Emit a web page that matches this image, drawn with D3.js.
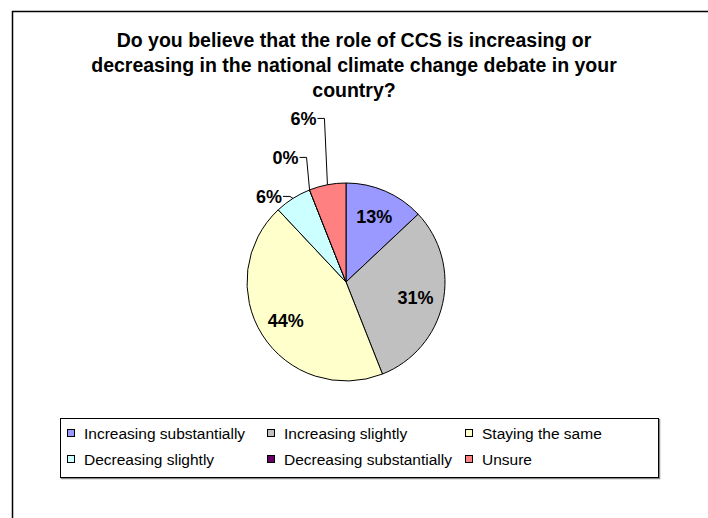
<!DOCTYPE html>
<html>
<head>
<meta charset="utf-8">
<script src="https://cdn.jsdelivr.net/npm/d3@7"></script>
<style>
  html, body { margin: 0; padding: 0; background: #fff; }
  svg { display: block; font-family: "Liberation Sans", Arial, sans-serif; }
</style>
</head>
<body>
<svg id="chart" width="708" height="518"></svg>
<script>
// Survey answers, share of respondents (%)
const categories = [
  "Increasing substantially",
  "Increasing slightly",
  "Staying the same",
  "Decreasing slightly",
  "Decreasing substantially",
  "Unsure"
];
const shares = [13, 31, 44, 6, 0, 6];
const sliceColors = ["#9999FF", "#C0C0C0", "#FFFFCC", "#CCFFFF", "#660066", "#FF8080"];
const titleLines = [
  "Do you believe that the role of CCS is increasing or",
  "decreasing in the national climate change debate in your",
  "country?"
];

const W = 708, H = 518;
const svg = d3.select("#chart");

// outer chart frame
svg.append("rect")
  .attr("x", 12.5).attr("y", 11.5)
  .attr("width", W + 20).attr("height", H + 20)
  .attr("fill", "#fff").attr("stroke", "#000").attr("stroke-width", 1.5);

// title
svg.append("g").selectAll("text")
  .data(titleLines).join("text")
  .attr("x", W / 2)
  .attr("y", (d, i) => 47 + i * 25)
  .attr("text-anchor", "middle")
  .attr("font-size", 19.5)
  .attr("font-weight", "bold")
  .attr("fill", "#000")
  .text(d => d);

// pie
const cx = 346, cy = 282, radius = 99;
const color = d3.scaleOrdinal().domain(categories).range(sliceColors);
const data = categories.map((c, i) => ({ name: c, value: shares[i] }));
const pie = d3.pie().sort(null).value(d => d.value);
const arcs = pie(data);
const arc = d3.arc().innerRadius(0).outerRadius(radius);
const edgeArc = d3.arc().innerRadius(radius).outerRadius(radius);
const labelArc = d3.arc().innerRadius(radius * 0.72).outerRadius(radius * 0.72);

const g = svg.append("g").attr("transform", `translate(${cx},${cy})`);
g.selectAll("path.slice")
  .data(arcs).join("path")
  .attr("class", "slice")
  .attr("d", arc)
  .attr("fill", d => color(d.data.name))
  .attr("stroke", "#000")
  .attr("stroke-width", 1)
  .attr("stroke-linejoin", "round");

// labels inside the larger slices
const inside = arcs.filter(d => d.data.value >= 10);
g.selectAll("text.inlabel")
  .data(inside).join("text")
  .attr("class", "inlabel")
  .attr("transform", d => `translate(${labelArc.centroid(d)})`)
  .attr("text-anchor", "middle")
  .attr("dy", "0.36em")
  .attr("font-size", 18)
  .attr("font-weight", "bold")
  .text(d => d.data.value + "%");

// small slices get callout labels, stacked upward with leader lines
const smallOrder = arcs.filter(d => d.data.value < 10).sort((a, b) => a.index - b.index);
const stackGap = 39, firstLift = 2, elbowIn = 3, tick = 7;
const callouts = g.append("g");
let baseY = null;
smallOrder.forEach((d, k) => {
  const [ax, ay] = edgeArc.centroid(d);
  if (baseY === null) baseY = ay - firstLift;
  const ex = ax - elbowIn;
  const ey = baseY - k * stackGap;
  callouts.append("path")
    .attr("d", `M${ex - tick},${ey}L${ex},${ey}L${ax},${ay}`)
    .attr("fill", "none")
    .attr("stroke", "#000")
    .attr("stroke-width", 1);
  callouts.append("text")
    .attr("x", ex - tick - 1)
    .attr("y", ey)
    .attr("dy", "0.36em")
    .attr("text-anchor", "end")
    .attr("font-size", 18)
    .attr("font-weight", "bold")
    .text(d.data.value + "%");
});

// legend
const lg = { x: 60, y: 418, w: 598, h: 59 };
svg.append("rect")
  .attr("x", lg.x + 1.5).attr("y", lg.y + 1.5)
  .attr("width", lg.w).attr("height", lg.h)
  .attr("fill", "none").attr("stroke", "#888").attr("stroke-width", 1.5);
svg.append("rect")
  .attr("x", lg.x + 0.5).attr("y", lg.y + 0.5)
  .attr("width", lg.w).attr("height", lg.h)
  .attr("fill", "#fff").attr("stroke", "#000").attr("stroke-width", 1);

const colX = [67, 267, 465];
const rowY = [433, 459];
const items = svg.append("g").selectAll("g")
  .data(categories).join("g")
  .attr("transform", (d, i) => `translate(${colX[i % 3]},${rowY[Math.floor(i / 3)]})`);
items.append("rect")
  .attr("x", 0.5).attr("y", -3.5)
  .attr("width", 7).attr("height", 7)
  .attr("fill", d => color(d))
  .attr("stroke", "#000").attr("stroke-width", 1);
items.append("text")
  .attr("x", 17)
  .attr("dy", "0.36em")
  .attr("font-size", 15.5)
  .attr("fill", "#000")
  .text(d => d);
</script>
</body>
</html>
